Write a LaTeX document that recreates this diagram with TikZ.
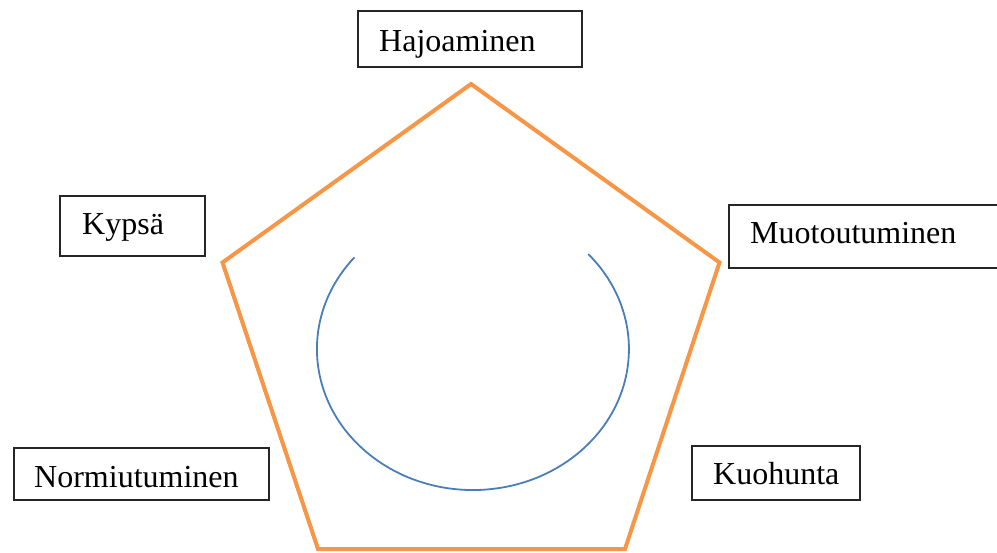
\documentclass[tikz,border=0pt]{standalone}
\usepackage{fontspec}
\setmainfont{Liberation Serif}
\definecolor{orng}{HTML}{F79646}
\definecolor{arcblue}{HTML}{4A7EBB}
\begin{document}
\begin{tikzpicture}[x=1pt,y=-1pt,
  box/.style={draw=black!85, line width=1.2pt, rectangle, inner sep=0pt},
  lbl/.style={anchor=base west, inner sep=0pt, font=\fontsize{32}{38}\selectfont},
  pent/.style={draw=orng, line width=4pt, line join=miter},
  cyc/.style={draw=arcblue, line width=1.8pt}]
\useasboundingbox (0,0) rectangle (997,553);
\clip (0,0) rectangle (997,553);
% pentagon
\coordinate (pt) at (471,84);
\coordinate (pr) at (719.5,262.5);
\coordinate (pbr) at (625,549);
\coordinate (pbl) at (318,549);
\coordinate (pl) at (222.5,262.5);
\draw[pent] (pt) -- (pr) -- (pbr) -- (pbl) -- (pl) -- cycle;
% arc
\coordinate (arcstart) at (354.5,257.3);
\draw[cyc] (arcstart) arc[start angle=220.6, end angle=-42.3, x radius=156, y radius=141];
% boxes
\node[box, minimum width=224, minimum height=56] (hbox) at (470,39) {};
\node[box, minimum width=145, minimum height=60] (kbox) at (132.5,226) {};
\node[box, minimum width=276, minimum height=63] (mbox) at (867,236.5) {};
\node[box, minimum width=255, minimum height=52] (nbox) at (141.5,474) {};
\node[box, minimum width=168, minimum height=54] (kubox) at (776,473) {};
% labels
\node[lbl] (htxt) at (379,52) {Hajoaminen};
\node[lbl] (ktxt) at (82,235) {Kypsä};
\node[lbl] (mtxt) at (750,244) {Muotoutuminen};
\node[lbl] (ntxt) at (34,488) {Normiutuminen};
\node[lbl] (kutxt) at (713,485) {Kuohunta};
\end{tikzpicture}
\end{document}
